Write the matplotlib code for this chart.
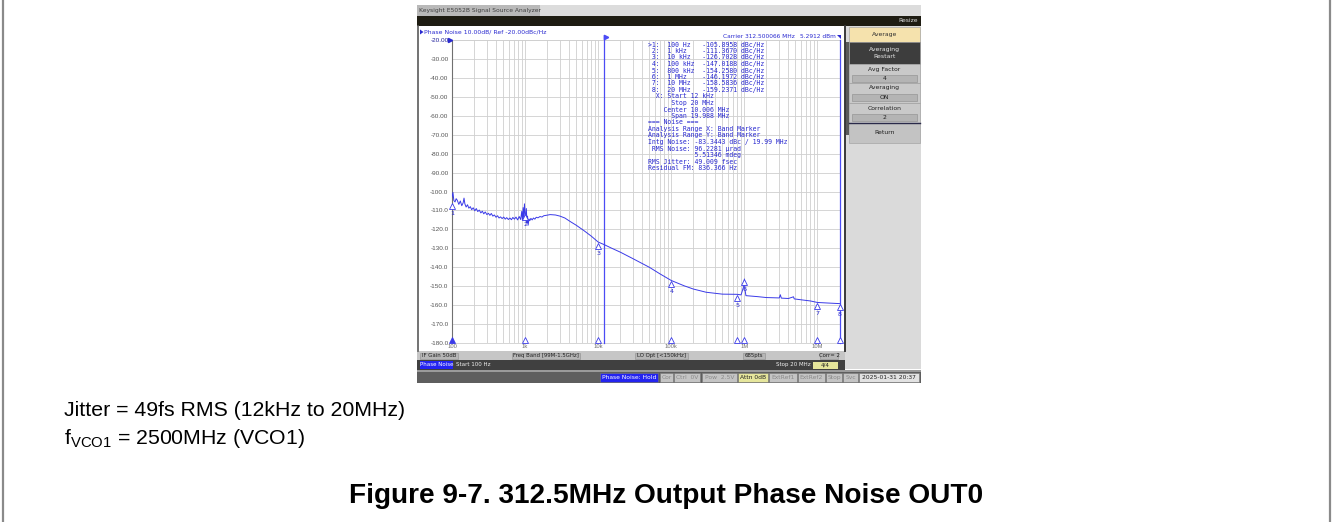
import matplotlib
matplotlib.use("Agg")
import matplotlib.pyplot as plt
import matplotlib.transforms as mtransforms
from matplotlib.patches import Rectangle, Polygon

W, H, DPI = 1333, 522, 100

# ---------------------------------------------------------------- data
trace_freq = [
    100, 103, 106, 110, 114, 118, 124, 130, 136, 142, 146, 150, 156, 163, 170,
    178, 186, 195, 205, 215, 225, 236, 248, 260, 272, 285, 300, 315, 330, 345,
    362, 380, 400, 420, 440, 462, 485, 510, 535, 560, 590, 620, 650, 680, 715,
    750, 790, 830, 870, 900, 920, 940, 960, 980, 1000, 1020, 1040, 1060, 1080,
    1100, 1130, 1160, 1200, 1250, 1300, 1360, 1420, 1500, 1600, 1700, 1800,
    2000, 2200, 2600, 3000, 3500, 4200, 5000, 6300, 8000, 10000, 12000, 15000,
    20000, 30000, 50000, 70000, 100000, 150000, 200000, 300000, 500000, 800000,
    900000, 980000, 1000000, 1020000, 1050000, 1500000, 2000000, 3000000,
    3100000, 3200000, 4000000, 4700000, 4800000, 6000000, 8000000, 10000000,
    14000000, 20000000,
]
trace_dbc = [
    -103.0, -100.5, -104.8, -105.5, -103.8, -104.6, -106.8, -105.0, -107.5,
    -106.0, -103.5, -106.5, -108.2, -107.0, -108.8, -108.0, -109.6, -108.6,
    -110.2, -109.0, -110.6, -109.8, -111.3, -110.4, -111.8, -110.8, -112.2,
    -111.5, -112.6, -111.6, -113.0, -112.4, -113.6, -112.8, -114.0, -113.4,
    -114.3, -113.5, -114.6, -113.8, -114.8, -114.0, -114.9, -113.7, -114.6,
    -113.5, -115.0, -113.2, -114.8, -110.5, -115.2, -108.5, -114.5, -106.5,
    -111.4, -115.5, -109.0, -116.5, -113.0, -117.8, -114.5, -115.4, -114.2,
    -115.0, -114.0, -114.6, -113.6, -113.9, -113.2, -113.5, -112.8, -112.5,
    -112.2, -112.4, -113.0, -114.0, -116.0, -117.8, -120.5, -123.5, -126.7,
    -128.0, -129.8, -132.0, -135.5, -140.0, -143.5, -147.0, -149.8, -151.5,
    -153.2, -154.2, -154.3, -154.6, -150.0, -146.2, -152.0, -155.0, -155.5,
    -156.0, -156.2, -154.5, -156.3, -156.5, -155.6, -156.7, -157.2, -157.8,
    -158.6, -158.9, -159.2,
]

marker_freq = [100, 1e3, 1e4, 1e5, 8e5, 1e6, 1e7, 2e7]
marker_freq_text = ["100 Hz", "1 kHz", "10 kHz", "100 kHz", "800 kHz",
                    "1 MHz", "10 MHz", "20 MHz"]
marker_dbc = [-105.8958, -111.3670, -126.7028, -147.0188, -154.2580,
              -146.1972, -158.5836, -159.2371]

band_start, band_stop = 12e3, 20e6

y_ticks = list(range(-20, -181, -10))
y_tick_text = ["-20.00", "-30.00", "-40.00", "-50.00", "-60.00", "-70.00",
               "-80.00", "-90.00", "-100.0", "-110.0", "-120.0", "-130.0",
               "-140.0", "-150.0", "-160.0", "-170.0", "-180.0"]
x_ticks = [1e2, 1e3, 1e4, 1e5, 1e6, 1e7]
x_tick_text = ["100", "1k", "10k", "100k", "1M", "10M"]

noise_lines = [
    "  X: Start 12 kHz",
    "      Stop 20 MHz",
    "    Center 10.006 MHz",
    "      Span 19.988 MHz",
    "=== Noise ===",
    "Analysis Range X: Band Marker",
    "Analysis Range Y: Band Marker",
    "Intg Noise: -83.3443 dBc / 19.99 MHz",
    " RMS Noise: 96.2281 \u00b5rad",
    "            5.51346 mdeg",
    "RMS Jitter: 49.009 fsec",
    "Residual FM: 836.366 Hz",
]

softkeys = [("Average", None), ("Averaging\nRestart", None),
            ("Avg Factor", "4"), ("Averaging", "ON"),
            ("Correlation", "2"), ("Return", None)]

# ---------------------------------------------------------------- style
BLUE = "#3a3ae8"
TXT_BLUE = "#2a2ad0"
GRID = "#cfcfcf"
MONO = "DejaVu Sans Mono"
UI = "DejaVu Sans"

plt.rcParams["font.family"] = ["Liberation Sans", "DejaVu Sans"]
plt.rcParams["mathtext.fontset"] = "custom"
plt.rcParams["mathtext.rm"] = "Liberation Sans"

fig = plt.figure(figsize=(W / DPI, H / DPI), dpi=DPI)
fig.patch.set_facecolor("white")


def pixel_axes(z):
    a = fig.add_axes([0, 0, 1, 1], zorder=z)
    a.set_xlim(0, W)
    a.set_ylim(H, 0)
    a.axis("off")
    a.patch.set_alpha(0)
    return a


# page and instrument frame underneath, readouts on top of the trace
ui = pixel_axes(0)
over = pixel_axes(5)


def box(x0, y0, x1, y1, fc, ec="none", lw=0.6, z=1):
    ui.add_patch(Rectangle((x0, y0), x1 - x0, y1 - y0, fc=fc, ec=ec, lw=lw, zorder=z))


def label(x, y, s, size=4.6, color="#202020", ha="left", va="center",
          family=UI, z=5, target=None, **kw):
    (target or ui).text(x, y, s, fontsize=size, color=color, ha=ha, va=va,
                        family=family, zorder=z, **kw)


# page frame
ui.plot([3, 3], [0, H], color="#8a8a8a", lw=1.6)
ui.plot([1330, 1330], [0, H], color="#8a8a8a", lw=1.6)

# window title bar
box(417, 5, 921, 16, "#dcdcdc")
box(417, 5, 540, 16, "#b9b9b9")
label(419, 10.5, "Keysight E5052B Signal Source Analyzer", size=4.3, color="#404040")
box(417, 16, 921, 26, "#1e1c12")
label(918, 21, "Resize", size=4.3, color="#e0e0e0", ha="right")

# measurement window
box(417, 26, 845, 351, "white")
ui.plot([418, 418], [26, 351], color="#5a5a5a", lw=1.2, zorder=2)
ui.plot([844.5, 844.5], [26, 351], color="#3a3a3a", lw=1.4, zorder=2)
ui.add_patch(Polygon([[420, 29.5], [420, 34.5], [423.5, 32]], closed=True,
                     fc=TXT_BLUE, zorder=3))
label(424, 32, "Phase Noise 10.00dB/ Ref -20.00dBc/Hz", size=4.4, color=TXT_BLUE)
label(795, 37, "Carrier 312.500066 MHz", size=4.2, color=TXT_BLUE, ha="right",
      target=over)
label(836, 37, "5.2912 dBm", size=4.2, color=TXT_BLUE, ha="right", target=over)
over.add_patch(Polygon([[837, 35], [841, 35], [841, 39]], closed=True,
                       fc=TXT_BLUE, zorder=3))

# soft-key panel
box(845, 26, 921, 369, "#dadada")
box(845, 42, 849, 135, "#5a5a5a")
key_rows = [(27, 42, "#f5e2ad", "#303030"), (42, 64, "#3d3d3d", "#e6e6e6"),
            (64, 83, "#c9c9c9", "#202020"), (83, 103, "#c9c9c9", "#202020"),
            (103, 123, "#c9c9c9", "#202020"), (123, 143, "#c3c3c3", "#202020")]
for (title, value), (t, b, fc, tc) in zip(softkeys, key_rows):
    box(849, t, 920, b, fc, ec="#9a9a9a", lw=0.4)
    if value is None:
        label(884.5, (t + b) / 2, title, size=4.4, color=tc, ha="center",
              linespacing=1.5)
    else:
        label(884.5, t + 5, title, size=4.4, color=tc, ha="center")
        box(852, t + 10.5, 917, t + 18, "#b4b4b4", ec="#8c8c8c", lw=0.4, z=2)
        label(884.5, t + 14.3, value, size=4.4, color=tc, ha="center")
ui.plot([849, 920], [123, 123], color="#2a2a4a", lw=1.0, zorder=3)

# status rows under the trace
box(417, 351, 845, 360, "#c6c6c6")
for x0, x1, s in [(420, 458, "IF Gain 50dB"), (512, 580, "Freq Band [99M-1.5GHz]"),
                  (635, 688, "LO Opt [<150kHz]"), (743, 765, "685pts"),
                  (820, 838, "Corr= 2")]:
    box(x0, 352.5, x1, 358.8, "#b6b6b6", ec="#8e8e8e", lw=0.4, z=2)
    label((x0 + x1) / 2, 355.7, s, size=3.9, color="#202020", ha="center")
box(417, 360, 845, 369.5, "#404040")
box(420, 361, 453, 368.5, "#2323f0", z=2)
label(436.5, 364.8, "Phase Noise", size=4.0, color="white", ha="center")
label(456, 364.8, "Start 100 Hz", size=4.0, color="#f0f0f0")
label(811, 364.8, "Stop 20 MHz", size=4.0, color="#f0f0f0", ha="right")
box(813, 361.5, 838, 368.5, "#e4e49a", z=2)
label(825.5, 364.8, "4/4", size=4.0, color="#202020", ha="center")

box(417, 369.5, 921, 372, "#9a9a9a")
box(417, 372, 921, 383, "#5e5e5e")
status = [(600, 658, "Phase Noise: Hold", "#2323f0", "white"),
          (660, 673, "Cor", "#c4c4c4", "#8a8a8a"),
          (674, 700, "Ctrl  0V", "#c4c4c4", "#8a8a8a"),
          (702, 737, "Pow  2.5V", "#c4c4c4", "#8a8a8a"),
          (738, 768, "Attn 0dB", "#e6e69c", "#202020"),
          (769, 797, "ExtRef1", "#c4c4c4", "#8a8a8a"),
          (798, 825, "ExtRef2", "#c4c4c4", "#8a8a8a"),
          (826, 842, "Stop", "#c4c4c4", "#8a8a8a"),
          (843, 858, "Svc", "#c4c4c4", "#8a8a8a"),
          (859, 919, "2025-01-31 20:37", "#e2e2e2", "#202020")]
for x0, x1, s, fc, tc in status:
    box(x0, 373, x1, 382, fc, ec="#7a7a7a", lw=0.4, z=2)
    label((x0 + x1) / 2, 377.6, s, size=4.3, color=tc, ha="center")

# page text
label(64, 410, "Jitter = 49fs RMS (12kHz to 20MHz)", size=15.3, color="black",
      family="Liberation Sans")
label(64, 439, r"$\mathregular{f_{VCO1}}$ = 2500MHz (VCO1)", size=15.3,
      color="black", family="Liberation Sans")
label(666, 496, "Figure 9-7. 312.5MHz Output Phase Noise OUT0", size=20.2,
      color="black", family="Liberation Sans", ha="center", fontweight="bold")


# ---------------------------------------------------------------- trace axes
def px_rect(l, t, r, b):
    return [l / W, 1 - b / H, (r - l) / W, (b - t) / H]


ax = fig.add_axes(px_rect(452, 40, 839.5, 343), zorder=2)
ax.set_facecolor("white")
ax.set_xscale("log")
ax.set_xlim(100, 20e6)
ax.set_ylim(-180, -20)

ax.set_yticks(y_ticks)
ax.set_yticklabels(y_tick_text)
ax.set_xticks(x_ticks)
ax.set_xticklabels(x_tick_text)
ax.xaxis.set_minor_locator(matplotlib.ticker.LogLocator(base=10, subs=range(2, 10)))
ax.xaxis.set_minor_formatter(matplotlib.ticker.NullFormatter())
ax.tick_params(axis="both", which="both", length=0)
ax.tick_params(axis="y", labelsize=4.6, labelcolor="#555555", pad=2.5)
ax.tick_params(axis="x", labelsize=4.2, labelcolor="#707070", pad=1)
ax.get_yticklabels()[0].set_color("#1e1e9a")
ax.grid(True, which="both", axis="x", color=GRID, lw=0.6)
ax.grid(True, which="major", axis="y", color=GRID, lw=0.6)
ax.set_axisbelow(True)
for side in ("top", "right", "bottom"):
    ax.spines[side].set_color(GRID)
    ax.spines[side].set_linewidth(0.6)
ax.spines["left"].set_color("#707070")
ax.spines["left"].set_linewidth(0.8)

# reference-level pointer
ax.plot([100], [-20], marker=">", ms=3, color=TXT_BLUE,
        transform=mtransforms.offset_copy(ax.transData, fig=fig, x=-2, y=0, units="dots"),
        clip_on=False, zorder=6)

# integration band limits
for f in (band_start, band_stop):
    ax.axvline(f, color="#4b4bf5", lw=0.9, zorder=3, clip_on=False)
ax.plot([band_start], [-20], marker=">", ms=3.2, color="#4b4bf5", clip_on=False,
        transform=mtransforms.offset_copy(ax.transData, fig=fig, x=2, y=3, units="dots"),
        zorder=6)

ax.plot(trace_freq, trace_dbc, color=BLUE, lw=0.7, zorder=4)

# markers on the trace and on the frequency axis
below_tri = mtransforms.offset_copy(ax.transData, fig=fig, x=0, y=-3.5, units="dots")
below_num = mtransforms.offset_copy(ax.transData, fig=fig, x=0, y=-11, units="dots")
axis_tri = mtransforms.offset_copy(ax.transData, fig=fig, x=0, y=3, units="dots")
for i, (f, v) in enumerate(zip(marker_freq, marker_dbc), start=1):
    ax.plot([f], [v], marker="^", ms=4, mfc="white", mec=BLUE, mew=0.6,
            transform=below_tri, clip_on=False, zorder=5)
    ax.text(f, v, str(i), transform=below_num, fontsize=4.6, color=TXT_BLUE,
            ha="center", va="center", family=UI, zorder=5, clip_on=False)
    ax.plot([f], [-180], marker="^", ms=4.5,
            mfc=BLUE if i == 1 else "white", mec=BLUE, mew=0.6,
            transform=axis_tri, clip_on=False, zorder=5)

# marker table and noise analysis readout
rows = []
for i, (txt, v) in enumerate(zip(marker_freq_text, marker_dbc), start=1):
    prefix = ">" if i == 1 else " "
    rows.append(f"{prefix}{i}:  {txt:<8}{v:10.4f} dBc/Hz")
rows += noise_lines
for k, s in enumerate(rows):
    label(648, 44.5 + k * 6.5, s, size=4.7, color=TXT_BLUE, family=MONO, z=6,
          target=over)

fig.savefig("out.png", dpi=DPI, facecolor="white")
